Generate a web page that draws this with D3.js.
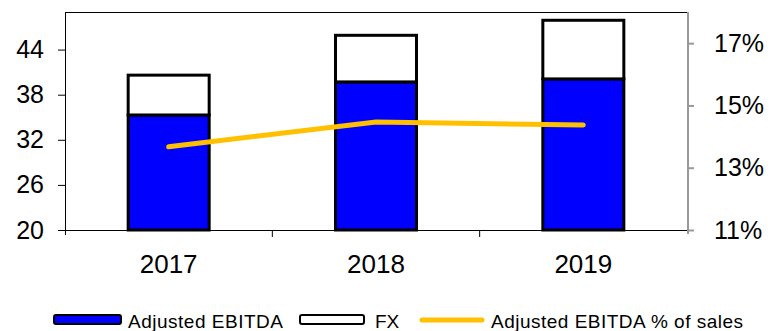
<!DOCTYPE html>
<html><head><meta charset="utf-8">
<script src="https://cdn.jsdelivr.net/npm/d3@7"></script>
<style>body{margin:0;background:#fff}svg{display:block;font-family:"Liberation Sans",Arial,sans-serif}</style>
</head><body>
<svg id="c" width="772" height="331"></svg>
<script>
const categories = ["2017","2018","2019"];
const adjEbitda = [35.3, 39.7, 40.1];
const fx = [5.3, 6.2, 7.8];
const pctSales = [13.67, 14.47, 14.37];
const leftTicks = [20,26,32,38,44];
const rightTicks = [11,13,15,17];
const legendLabels = ["Adjusted EBITDA","FX","Adjusted EBITDA % of sales"];

const svg = d3.select("#c");
const L=65, R=687, T=12, B=230;
const x = d3.scaleBand().domain(categories).range([L,R]);
const y = d3.scaleLinear().domain([20,49]).range([B,T]);
const y2 = d3.scaleLinear().domain([11,18]).range([B,T]);

// frame top
svg.append("line").attr("x1",L).attr("x2",R).attr("y1",T+0.5).attr("y2",T+0.5).attr("stroke","#000").attr("stroke-width",1);

// left axis
const ga = svg.append("g").attr("transform",`translate(${L},0)`)
  .call(d3.axisLeft(y).tickValues(leftTicks).tickSize(7).tickPadding(14));
ga.select(".domain").attr("d",`M0.5,${T}V${B+5}`).attr("stroke","#000");
ga.selectAll("text").attr("font-size",25).attr("fill","#000").attr("font-family","Liberation Sans, Arial");

// right axis
const gr = svg.append("g").attr("transform",`translate(${R+1},0)`)
  .call(d3.axisRight(y2).tickValues(rightTicks).tickFormat(d=>d+"%").tickSize(6).tickPadding(20));
gr.select(".domain").attr("d",`M0,${T}V${B+4}`).attr("stroke","#999").attr("stroke-width",2);
gr.selectAll(".tick line").attr("stroke","#999").attr("stroke-width",2);
gr.selectAll("text").attr("font-size",25).attr("fill","#000").attr("font-family","Liberation Sans, Arial");

// bottom axis
svg.append("line").attr("x1",L).attr("x2",R).attr("y1",B+0.5).attr("y2",B+0.5).attr("stroke","#000");
const bnds = categories.slice(1).map(c=>x(c));
svg.selectAll(".xt").data(bnds).enter().append("line")
  .attr("x1",d=>d).attr("x2",d=>d).attr("y1",B).attr("y2",B+7).attr("stroke","#000");
svg.selectAll(".xl").data(categories).enter().append("text")
  .attr("x",d=>x(d)+x.bandwidth()/2).attr("y",273).attr("text-anchor","middle")
  .attr("font-size",26).text(d=>d);

// bars
const bw = 81;
const bars = svg.append("g");
categories.forEach((c,i)=>{
  const cx = x(c)+x.bandwidth()/2;
  bars.append("rect").attr("x",cx-bw/2).attr("width",bw)
    .attr("y",y(adjEbitda[i])).attr("height",y(20)-y(adjEbitda[i]))
    .attr("fill","#0000FF").attr("stroke","#000").attr("stroke-width",3);
  bars.append("rect").attr("x",cx-bw/2).attr("width",bw)
    .attr("y",y(adjEbitda[i]+fx[i])).attr("height",y(adjEbitda[i])-y(adjEbitda[i]+fx[i]))
    .attr("fill","#fff").attr("stroke","#000").attr("stroke-width",3);
});

// line
svg.append("path").datum(pctSales)
  .attr("d",d3.line().x((d,i)=>x(categories[i])+x.bandwidth()/2).y(d=>y2(d)))
  .attr("fill","none").attr("stroke","#FFC000").attr("stroke-width",5).attr("stroke-linecap","round");

// legend
const lg = svg.append("g");
lg.append("rect").attr("x",54).attr("y",315).attr("width",67).attr("height",9).attr("rx",2)
  .attr("fill","#0000FF").attr("stroke","#000").attr("stroke-width",2);
lg.append("text").attr("x",128).attr("y",328).attr("font-size",19).attr("textLength",155).attr("lengthAdjust","spacing").text(legendLabels[0]);
lg.append("rect").attr("x",300).attr("y",315).attr("width",64).attr("height",9).attr("rx",2)
  .attr("fill","#fff").attr("stroke","#000").attr("stroke-width",2);
lg.append("text").attr("x",375).attr("y",328).attr("font-size",19).text(legendLabels[1]);
lg.append("line").attr("x1",422).attr("x2",482).attr("y1",320).attr("y2",320)
  .attr("stroke","#FFC000").attr("stroke-width",5).attr("stroke-linecap","round");
lg.append("text").attr("x",491).attr("y",328).attr("font-size",19).attr("textLength",252).attr("lengthAdjust","spacing").text(legendLabels[2]);
</script>
</body></html>
